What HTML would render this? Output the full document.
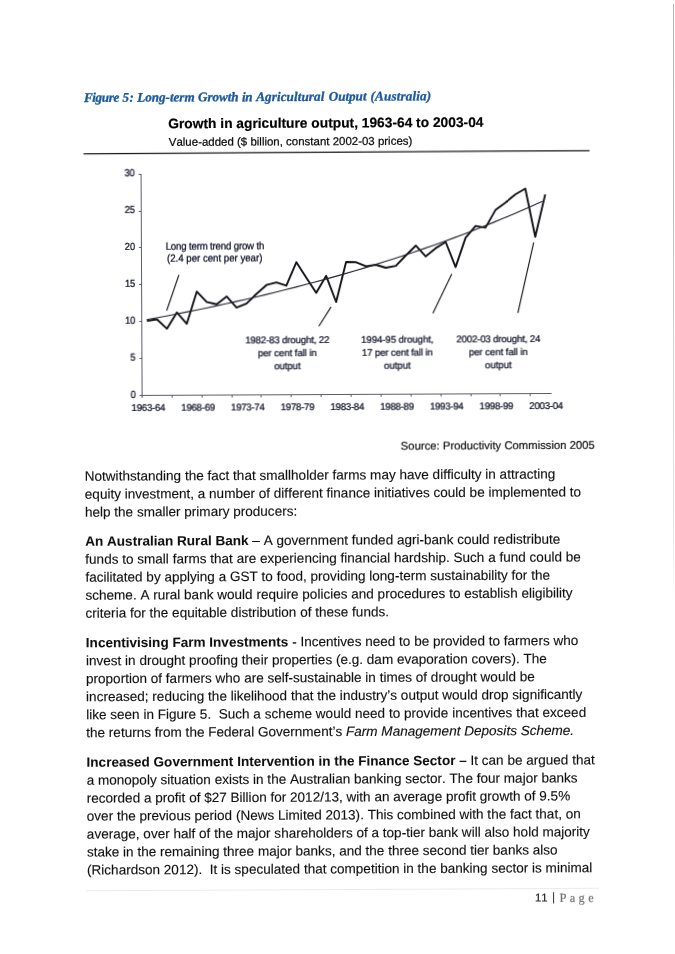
<!DOCTYPE html>
<html><head><meta charset="utf-8"><title>Page 11</title>
<style>
html,body{margin:0;padding:0;background:#fff}
body{width:675px;height:954px;overflow:hidden;position:relative}
#layer{position:absolute;left:0;top:0;width:675px;height:954px;will-change:transform}
#pg{position:absolute;left:0;top:0;width:675px;height:954px;transform:rotate(-0.27deg);transform-origin:337.5px 477.0px}
.t{position:absolute;left:0;top:0;white-space:pre;margin:0;text-rendering:geometricPrecision;font-kerning:none}
.b{font-family:"Liberation Sans",sans-serif;font-weight:normal;color:#101010;-webkit-text-stroke:0.13px #101010}
.b b{font-weight:bold;-webkit-text-stroke:0.05px #101010}
#edge{position:absolute;left:672.6px;top:3.5px;width:1.3px;height:600px;background:linear-gradient(to bottom,#b4b4b4 0,#bcbcbc 35%,#d2d2d2 55%,#e2e2e2 85%,rgba(255,255,255,0) 100%)}
</style></head><body>
<div id="layer"><div id="pg">
<div class="t" style="font:italic bold 13.2px/17px 'Liberation Serif',serif;font-kerning:none;color:#1a58a0;transform:translate(85.67px,87.71px);-webkit-text-stroke:0.3px #1a58a0;letter-spacing:-0.384px;">Figure</div>
<div class="t" style="font:italic bold 13.2px/17px 'Liberation Serif',serif;font-kerning:none;color:#1a58a0;transform:translate(124.17px,87.71px);-webkit-text-stroke:0.3px #1a58a0;letter-spacing:0.492px;">5:</div>
<div class="t" style="font:italic bold 13.2px/17px 'Liberation Serif',serif;font-kerning:none;color:#1a58a0;transform:translate(138.97px,87.71px);-webkit-text-stroke:0.3px #1a58a0;letter-spacing:-0.055px;">Long-term</div>
<div class="t" style="font:italic bold 13.2px/17px 'Liberation Serif',serif;font-kerning:none;color:#1a58a0;transform:translate(199.77px,87.71px);-webkit-text-stroke:0.3px #1a58a0;letter-spacing:-0.079px;">Growth</div>
<div class="t" style="font:italic bold 13.2px/17px 'Liberation Serif',serif;font-kerning:none;color:#1a58a0;transform:translate(243.77px,87.71px);-webkit-text-stroke:0.3px #1a58a0;letter-spacing:-0.521px;">in</div>
<div class="t" style="font:italic bold 13.2px/17px 'Liberation Serif',serif;font-kerning:none;color:#1a58a0;transform:translate(257.97px,87.71px);-webkit-text-stroke:0.3px #1a58a0;letter-spacing:0.064px;">Agricultural</div>
<div class="t" style="font:italic bold 13.2px/17px 'Liberation Serif',serif;font-kerning:none;color:#1a58a0;transform:translate(330.57px,87.71px);-webkit-text-stroke:0.3px #1a58a0;letter-spacing:-0.072px;">Output</div>
<div class="t" style="font:italic bold 13.2px/17px 'Liberation Serif',serif;font-kerning:none;color:#1a58a0;transform:translate(372.27px,87.71px);-webkit-text-stroke:0.3px #1a58a0;letter-spacing:0.138px;">(Australia)</div>
<div class="t" style="font:normal bold 13.78px/17px 'Liberation Sans',sans-serif;font-kerning:none;color:#000;transform:translate(169.95px,114.51px);-webkit-text-stroke:0.2px #000;">Growth in agriculture output, 1963-64 to 2003-04</div>
<div class="t" style="font:normal normal 11.48px/14px 'Liberation Sans',sans-serif;font-kerning:none;color:#0a0a0a;transform:translate(170.36px,135.11px);-webkit-text-stroke:0.22px #0a0a0a;">Value-added ($ billion, constant 2002-03 prices)</div>
<div class="t" style="width:675px;text-align:right;font:normal normal 11.3px/14px 'Liberation Sans',sans-serif;font-kerning:none;color:#111;transform:translate(-80.17px,439.81px);-webkit-text-stroke:0.2px #111;">Source: Productivity Commission 2005</div>
<div class="t b" style="font-size:13.56px;line-height:17px;transform:translate(84.74px,466.56px)">Notwithstanding the fact that smallholder farms may have difficulty in attracting</div>
<div class="t b" style="font-size:13.56px;line-height:17px;transform:translate(84.73px,484.53px)">equity investment, a number of different finance initiatives could be implemented to</div>
<div class="t b" style="font-size:13.56px;line-height:17px;transform:translate(84.72px,502.50px)">help the smaller primary producers:</div>
<div class="t b" style="font-size:13.56px;line-height:17px;transform:translate(84.91px,531.66px)"><b>An Australian Rural Bank</b> – A government funded agri-bank could redistribute</div>
<div class="t b" style="font-size:13.56px;line-height:17px;transform:translate(84.90px,549.63px)">funds to small farms that are experiencing financial hardship. Such a fund could be</div>
<div class="t b" style="font-size:13.56px;line-height:17px;transform:translate(84.89px,567.60px)">facilitated by applying a GST to food, providing long-term sustainability for the</div>
<div class="t b" style="font-size:13.56px;line-height:17px;transform:translate(84.88px,585.57px)">scheme. A rural bank would require policies and procedures to establish eligibility</div>
<div class="t b" style="font-size:13.56px;line-height:17px;transform:translate(84.87px,603.54px)">criteria for the equitable distribution of these funds.</div>
<div class="t b" style="font-size:13.553px;line-height:17px;transform:translate(85.06px,633.16px)"><b>Incentivising Farm Investments</b> - Incentives need to be provided to farmers who</div>
<div class="t b" style="font-size:13.553px;line-height:17px;transform:translate(85.05px,651.13px)">invest in drought proofing their properties (e.g. dam evaporation covers). The</div>
<div class="t b" style="font-size:13.553px;line-height:17px;transform:translate(85.04px,669.10px)">proportion of farmers who are self-sustainable in times of drought would be</div>
<div class="t b" style="font-size:13.553px;line-height:17px;transform:translate(85.03px,687.07px)">increased; reducing the likelihood that the industry’s output would drop significantly</div>
<div class="t b" style="font-size:13.553px;line-height:17px;transform:translate(85.03px,705.04px)">like seen in Figure 5.  Such a scheme would need to provide incentives that exceed</div>
<div class="t b" style="font-size:13.553px;line-height:17px;transform:translate(85.02px,723.01px)">the returns from the Federal Government’s <i>Farm Management Deposits Scheme.</i></div>
<div class="t b" style="font-size:13.553px;line-height:17px;transform:translate(85.20px,752.56px)"><b>Increased Government Intervention in the Finance Sector –</b> It can be argued that</div>
<div class="t b" style="font-size:13.553px;line-height:17px;transform:translate(85.20px,770.53px)">a monopoly situation exists in the Australian banking sector. The four major banks</div>
<div class="t b" style="font-size:13.553px;line-height:17px;transform:translate(85.19px,788.50px)">recorded a profit of $27 Billion for 2012/13, with an average profit growth of 9.5%</div>
<div class="t b" style="font-size:13.553px;line-height:17px;transform:translate(85.18px,806.47px)">over the previous period (News Limited 2013). This combined with the fact that, on</div>
<div class="t b" style="font-size:13.553px;line-height:17px;transform:translate(85.17px,824.44px)">average, over half of the major shareholders of a top-tier bank will also hold majority</div>
<div class="t b" style="font-size:13.553px;line-height:17px;transform:translate(85.16px,842.42px)">stake in the remaining three major banks, and the three second tier banks also</div>
<div class="t b" style="font-size:13.553px;line-height:17px;transform:translate(85.15px,860.39px)">(Richardson 2012).  It is speculated that competition in the banking sector is minimal</div>
<div style="position:absolute;left:84.1px;top:888.9px;width:512.7px;height:1px;background:#ebebeb"></div>
<div class="t" style="font:normal normal 11.4px/14px 'Liberation Sans',sans-serif;font-kerning:none;color:#222;transform:translate(532.89px,892.43px);-webkit-text-stroke:0.2px #222;">11</div>
<div class="t" style="width:675px;text-align:center;font:normal normal 12.2px/16px 'Liberation Sans',sans-serif;font-kerning:none;color:#2a2a2a;transform:translate(214.20px,890.41px);">|</div>
<div class="t" style="font:normal normal 12.5px/16px 'Liberation Serif',serif;font-kerning:none;color:#6e6e6e;transform:translate(557.39px,891.44px);letter-spacing:3.35px;-webkit-text-stroke:0.15px #6e6e6e;">Page</div>
<svg width="675" height="954" style="position:absolute;left:0;top:0" viewBox="0 0 675 954"><path d="M85.13,152.61 L591.14,151.79" stroke="#1a1a1a" stroke-width="1.3"/><path d="M142.69,172.88 L142.69,394.58 L551.89,394.58" fill="none" stroke="#5a5a70" stroke-width="1" shape-rendering="crispEdges"/><path d="M140.39,394.43 L142.69,394.43" fill="none" stroke="#5a5a70" stroke-width="1" shape-rendering="crispEdges"/><path d="M140.39,357.54 L142.69,357.54" fill="none" stroke="#5a5a70" stroke-width="1" shape-rendering="crispEdges"/><path d="M140.39,320.66 L142.69,320.66" fill="none" stroke="#5a5a70" stroke-width="1" shape-rendering="crispEdges"/><path d="M140.39,283.77 L142.69,283.77" fill="none" stroke="#5a5a70" stroke-width="1" shape-rendering="crispEdges"/><path d="M140.39,246.89 L142.69,246.89" fill="none" stroke="#5a5a70" stroke-width="1" shape-rendering="crispEdges"/><path d="M140.39,210.00 L142.69,210.00" fill="none" stroke="#5a5a70" stroke-width="1" shape-rendering="crispEdges"/><path d="M140.39,173.12 L142.69,173.12" fill="none" stroke="#5a5a70" stroke-width="1" shape-rendering="crispEdges"/><path d="M142.49,394.58 L142.49,397.38" fill="none" stroke="#5a5a70" stroke-width="1" shape-rendering="crispEdges"/><path d="M172.36,394.58 L172.36,397.38" fill="none" stroke="#5a5a70" stroke-width="1" shape-rendering="crispEdges"/><path d="M202.23,394.58 L202.23,397.38" fill="none" stroke="#5a5a70" stroke-width="1" shape-rendering="crispEdges"/><path d="M232.10,394.58 L232.10,397.38" fill="none" stroke="#5a5a70" stroke-width="1" shape-rendering="crispEdges"/><path d="M261.97,394.58 L261.97,397.38" fill="none" stroke="#5a5a70" stroke-width="1" shape-rendering="crispEdges"/><path d="M291.84,394.58 L291.84,397.38" fill="none" stroke="#5a5a70" stroke-width="1" shape-rendering="crispEdges"/><path d="M321.71,394.58 L321.71,397.38" fill="none" stroke="#5a5a70" stroke-width="1" shape-rendering="crispEdges"/><path d="M351.58,394.58 L351.58,397.38" fill="none" stroke="#5a5a70" stroke-width="1" shape-rendering="crispEdges"/><path d="M381.45,394.58 L381.45,397.38" fill="none" stroke="#5a5a70" stroke-width="1" shape-rendering="crispEdges"/><path d="M411.32,394.58 L411.32,397.38" fill="none" stroke="#5a5a70" stroke-width="1" shape-rendering="crispEdges"/><path d="M441.19,394.58 L441.19,397.38" fill="none" stroke="#5a5a70" stroke-width="1" shape-rendering="crispEdges"/><path d="M471.06,394.58 L471.06,397.38" fill="none" stroke="#5a5a70" stroke-width="1" shape-rendering="crispEdges"/><path d="M500.93,394.58 L500.93,397.38" fill="none" stroke="#5a5a70" stroke-width="1" shape-rendering="crispEdges"/><path d="M530.80,394.58 L530.80,397.38" fill="none" stroke="#5a5a70" stroke-width="1" shape-rendering="crispEdges"/><polyline points="147.74,320.00 157.70,318.45 167.61,327.90 177.64,311.64 187.54,323.09 197.65,290.94 207.56,301.39 217.50,303.73 227.49,295.98 237.39,307.03 247.37,303.17 257.37,293.52 267.37,284.67 277.33,282.11 287.27,285.46 297.34,262.01 307.22,277.46 317.10,292.80 327.14,275.85 336.97,302.00 347.11,261.94 357.07,262.29 367.00,266.34 376.96,264.98 386.91,268.03 396.87,266.08 406.87,255.72 416.87,245.97 426.78,256.82 436.77,248.67 446.76,242.51 456.59,267.66 466.69,238.41 476.70,226.65 486.64,228.40 496.68,210.85 506.67,203.39 516.66,195.24 526.65,189.49 536.37,237.73 546.53,195.38" fill="none" stroke="#121218" stroke-width="1.9" stroke-linejoin="round"/><polyline points="147.39,318.79 157.29,317.01 167.20,315.18 177.10,313.31 187.01,311.40 196.91,309.44 206.82,307.43 216.72,305.38 226.63,303.28 236.53,301.13 246.44,298.93 256.35,296.68 266.25,294.37 276.16,292.01 286.06,289.59 295.97,287.12 305.87,284.59 315.78,282.00 325.68,279.35 335.59,276.63 345.49,273.85 355.40,271.01 365.30,268.10 375.21,265.12 385.11,262.07 395.02,258.95 404.93,255.75 414.83,252.48 424.74,249.13 434.64,245.71 444.55,242.20 454.45,238.61 464.36,234.94 474.26,231.17 484.17,227.32 494.07,223.38 503.98,219.35 513.88,215.22 523.79,210.99 533.69,206.67 543.60,202.24" fill="none" stroke="#22222c" stroke-width="1.1"/><path d="M179.85,274.25 L167.49,309.70" stroke="#1c1c26" stroke-width="1.15"/><path d="M331.90,306.87 L319.51,326.31" stroke="#1c1c26" stroke-width="1.15"/><path d="M452.76,274.44 L433.67,313.85" stroke="#1c1c26" stroke-width="1.15"/><path d="M534.80,243.43 L518.67,313.75" stroke="#1c1c26" stroke-width="1.15"/></svg>
<div class="t" style="width:675px;text-align:right;font:normal normal 9.35px/12px 'Liberation Sans',sans-serif;font-kerning:none;color:#080c20;transform:translate(-538.91px,387.88px) scaleY(1.1);-webkit-text-stroke:0.22px #080c20;letter-spacing:0.000px;transform-origin:0 9px;">0</div>
<div class="t" style="width:675px;text-align:right;font:normal normal 9.35px/12px 'Liberation Sans',sans-serif;font-kerning:none;color:#080c20;transform:translate(-538.91px,350.59px) scaleY(1.1);-webkit-text-stroke:0.22px #080c20;letter-spacing:0.000px;transform-origin:0 9px;">5</div>
<div class="t" style="width:675px;text-align:right;font:normal normal 9.35px/12px 'Liberation Sans',sans-serif;font-kerning:none;color:#080c20;transform:translate(-539.07px,313.71px) scaleY(1.1);-webkit-text-stroke:0.22px #080c20;letter-spacing:-0.159px;transform-origin:0 9px;">10</div>
<div class="t" style="width:675px;text-align:right;font:normal normal 9.35px/12px 'Liberation Sans',sans-serif;font-kerning:none;color:#080c20;transform:translate(-539.07px,276.82px) scaleY(1.1);-webkit-text-stroke:0.22px #080c20;letter-spacing:-0.159px;transform-origin:0 9px;">15</div>
<div class="t" style="width:675px;text-align:right;font:normal normal 9.35px/12px 'Liberation Sans',sans-serif;font-kerning:none;color:#080c20;transform:translate(-539.07px,239.94px) scaleY(1.1);-webkit-text-stroke:0.22px #080c20;letter-spacing:-0.159px;transform-origin:0 9px;">20</div>
<div class="t" style="width:675px;text-align:right;font:normal normal 9.35px/12px 'Liberation Sans',sans-serif;font-kerning:none;color:#080c20;transform:translate(-539.07px,203.05px) scaleY(1.1);-webkit-text-stroke:0.22px #080c20;letter-spacing:-0.159px;transform-origin:0 9px;">25</div>
<div class="t" style="width:675px;text-align:right;font:normal normal 9.35px/12px 'Liberation Sans',sans-serif;font-kerning:none;color:#080c20;transform:translate(-539.07px,166.17px) scaleY(1.1);-webkit-text-stroke:0.22px #080c20;letter-spacing:-0.159px;transform-origin:0 9px;">30</div>
<div class="t" style="width:675px;text-align:center;font:normal normal 9.75px/13px 'Liberation Sans',sans-serif;font-kerning:none;color:#080c20;transform:translate(-188.87px,400.58px);-webkit-text-stroke:0.22px #080c20;letter-spacing:-0.317px;">1963-64</div>
<div class="t" style="width:675px;text-align:center;font:normal normal 9.75px/13px 'Liberation Sans',sans-serif;font-kerning:none;color:#080c20;transform:translate(-139.15px,400.58px);-webkit-text-stroke:0.22px #080c20;letter-spacing:-0.317px;">1968-69</div>
<div class="t" style="width:675px;text-align:center;font:normal normal 9.75px/13px 'Liberation Sans',sans-serif;font-kerning:none;color:#080c20;transform:translate(-89.43px,400.58px);-webkit-text-stroke:0.22px #080c20;letter-spacing:-0.317px;">1973-74</div>
<div class="t" style="width:675px;text-align:center;font:normal normal 9.75px/13px 'Liberation Sans',sans-serif;font-kerning:none;color:#080c20;transform:translate(-39.71px,400.58px);-webkit-text-stroke:0.22px #080c20;letter-spacing:-0.317px;">1978-79</div>
<div class="t" style="width:675px;text-align:center;font:normal normal 9.75px/13px 'Liberation Sans',sans-serif;font-kerning:none;color:#080c20;transform:translate(10.01px,400.58px);-webkit-text-stroke:0.22px #080c20;letter-spacing:-0.317px;">1983-84</div>
<div class="t" style="width:675px;text-align:center;font:normal normal 9.75px/13px 'Liberation Sans',sans-serif;font-kerning:none;color:#080c20;transform:translate(59.73px,400.58px);-webkit-text-stroke:0.22px #080c20;letter-spacing:-0.317px;">1988-89</div>
<div class="t" style="width:675px;text-align:center;font:normal normal 9.75px/13px 'Liberation Sans',sans-serif;font-kerning:none;color:#080c20;transform:translate(109.45px,400.58px);-webkit-text-stroke:0.22px #080c20;letter-spacing:-0.317px;">1993-94</div>
<div class="t" style="width:675px;text-align:center;font:normal normal 9.75px/13px 'Liberation Sans',sans-serif;font-kerning:none;color:#080c20;transform:translate(159.17px,400.58px);-webkit-text-stroke:0.22px #080c20;letter-spacing:-0.317px;">1998-99</div>
<div class="t" style="width:675px;text-align:center;font:normal normal 9.75px/13px 'Liberation Sans',sans-serif;font-kerning:none;color:#080c20;transform:translate(208.89px,400.58px);-webkit-text-stroke:0.22px #080c20;letter-spacing:-0.317px;">2003-04</div>
<div class="t" style="font:normal normal 9.75px/13px 'Liberation Sans',sans-serif;font-kerning:none;color:#080c20;transform:translate(166.67px,239.69px) scaleY(1.09);-webkit-text-stroke:0.22px #080c20;letter-spacing:-0.220px;transform-origin:0 10px;">Long term trend grow th</div>
<div class="t" style="font:normal normal 9.75px/13px 'Liberation Sans',sans-serif;font-kerning:none;color:#080c20;transform:translate(168.01px,252.10px) scaleY(1.09);-webkit-text-stroke:0.22px #080c20;letter-spacing:-0.049px;transform-origin:0 10px;">(2.4 per cent per year)</div>
<div class="t" style="width:675px;text-align:center;font:normal normal 9.75px/13px 'Liberation Sans',sans-serif;font-kerning:none;color:#080c20;transform:translate(-49.57px,334.17px);-webkit-text-stroke:0.22px #080c20;letter-spacing:-0.197px;">1982-83 drought, 22</div>
<div class="t" style="width:675px;text-align:center;font:normal normal 9.75px/13px 'Liberation Sans',sans-serif;font-kerning:none;color:#080c20;transform:translate(-49.60px,347.17px);-webkit-text-stroke:0.22px #080c20;letter-spacing:-0.121px;">per cent fall in</div>
<div class="t" style="width:675px;text-align:center;font:normal normal 9.75px/13px 'Liberation Sans',sans-serif;font-kerning:none;color:#080c20;transform:translate(-49.66px,359.77px);-webkit-text-stroke:0.22px #080c20;letter-spacing:-0.126px;">output</div>
<div class="t" style="width:675px;text-align:center;font:normal normal 9.75px/13px 'Liberation Sans',sans-serif;font-kerning:none;color:#080c20;transform:translate(60.47px,333.98px);-webkit-text-stroke:0.22px #080c20;letter-spacing:-0.119px;">1994-95 drought,</div>
<div class="t" style="width:675px;text-align:center;font:normal normal 9.75px/13px 'Liberation Sans',sans-serif;font-kerning:none;color:#080c20;transform:translate(60.38px,346.98px);-webkit-text-stroke:0.22px #080c20;letter-spacing:-0.176px;">17 per cent fall in</div>
<div class="t" style="width:675px;text-align:center;font:normal normal 9.75px/13px 'Liberation Sans',sans-serif;font-kerning:none;color:#080c20;transform:translate(60.35px,359.68px);-webkit-text-stroke:0.22px #080c20;letter-spacing:-0.106px;">output</div>
<div class="t" style="width:675px;text-align:center;font:normal normal 9.75px/13px 'Liberation Sans',sans-serif;font-kerning:none;color:#080c20;transform:translate(161.42px,334.26px);-webkit-text-stroke:0.22px #080c20;letter-spacing:-0.208px;">2002-03 drought, 24</div>
<div class="t" style="width:675px;text-align:center;font:normal normal 9.75px/13px 'Liberation Sans',sans-serif;font-kerning:none;color:#080c20;transform:translate(161.41px,347.26px);-webkit-text-stroke:0.22px #080c20;letter-spacing:-0.121px;">per cent fall in</div>
<div class="t" style="width:675px;text-align:center;font:normal normal 9.75px/13px 'Liberation Sans',sans-serif;font-kerning:none;color:#080c20;transform:translate(161.35px,360.06px);-webkit-text-stroke:0.22px #080c20;letter-spacing:-0.106px;">output</div>
</div></div>
<div id="edge"></div>
</body></html>
